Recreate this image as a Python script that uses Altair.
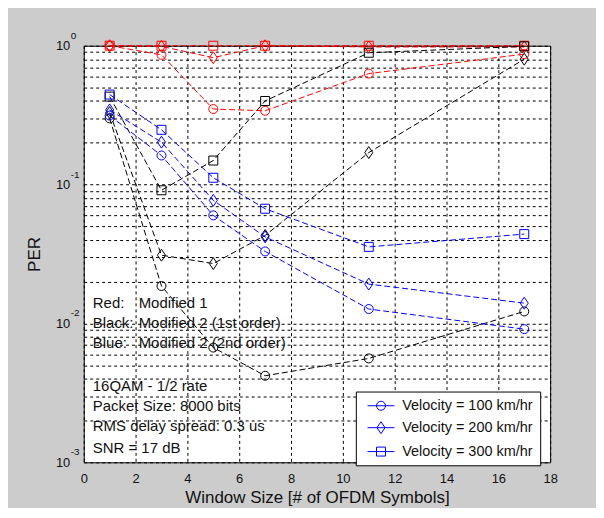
import altair as alt
import pandas as pd

FONT = "Liberation Sans"

window = [1, 3, 5, 7, 11, 17]
methods = ["Modified 1", "Modified 2 (1st order)", "Modified 2 (2nd order)"]
method_colors = ["#ff0000", "#000000", "#0000ff"]
velocities = ["Velocity = 100 km/hr", "Velocity = 200 km/hr", "Velocity = 300 km/hr"]

# Red: Modified 1
red_100 = [1.0, 0.86, 0.35, 0.34, 0.63, 0.87]
red_200 = [1.0, 0.99, 0.82, 1.0, 0.98, 0.98]
red_300 = [1.0, 1.0, 1.0, 1.0, 1.0, 1.0]
# Black: Modified 2 (1st order)
black_100 = [0.30, 0.0186, 0.0067, 0.0042, 0.0056, 0.0122]
black_200 = [0.33, 0.031, 0.027, 0.043, 0.17, 0.80]
black_300 = [0.43, 0.091, 0.149, 0.40, 0.89, 0.99]
# Blue: Modified 2 (2nd order)
blue_100 = [0.314, 0.162, 0.060, 0.033, 0.0127, 0.0091]
blue_200 = [0.345, 0.202, 0.077, 0.042, 0.0192, 0.014]
blue_300 = [0.445, 0.248, 0.112, 0.067, 0.0356, 0.044]

x_ticks = [0, 2, 4, 6, 8, 10, 12, 14, 16, 18]
decades = [0.001, 0.01, 0.1, 1]
exponents = ["-3", "-2", "-1", "0"]

ann_prefix = ["Red:", "Black:", "Blue:"]
ann_body = ["Modified 1", "Modified 2 (1st order)", "Modified 2 (2nd order)"]
ann_rows_y = [0.0141, 0.0101, 0.00726]
info_lines = ["16QAM - 1/2 rate", "Packet Size: 8000 bits",
              "RMS delay spread: 0.3 us", "SNR = 17 dB"]
info_y = [0.00356, 0.00253, 0.00182, 0.00127]
ann_x_prefix = 0.35
ann_x_body = 2.12

series = [
    (methods[0], velocities[0], red_100), (methods[0], velocities[1], red_200), (methods[0], velocities[2], red_300),
    (methods[1], velocities[0], black_100), (methods[1], velocities[1], black_200), (methods[1], velocities[2], black_300),
    (methods[2], velocities[0], blue_100), (methods[2], velocities[1], blue_200), (methods[2], velocities[2], blue_300),
]
rows = []
for m, v, vals in series:
    for xv, yv in zip(window, vals):
        rows.append({"method": m, "velocity": v, "window": xv, "per": yv})
df = pd.DataFrame(rows)

y_values = []
for d in decades[:-1]:
    y_values += [round(d * k, 6) for k in range(1, 10)]
y_values.append(1)

marker_paths = [
    "circle",
    "M0,-1.33L0.9,0L0,1.33L-0.9,0Z",
    "square",
]
legend_paths = [
    "M-3,0L3,0M1,0A1,1 0 1,1 -1,0A1,1 0 1,1 1,0Z",
    "M-3,0L3,0M0,-1.33L0.9,0L0,1.33L-0.9,0Z",
    "M-3,0L3,0M-1,-1L1,-1L1,1L-1,1Z",
]

x_enc = alt.X("window:Q", scale=alt.Scale(domain=[0, 18], nice=False, zero=False),
              axis=alt.Axis(values=x_ticks, title="Window Size [# of OFDM Symbols]",
                            grid=True, gridDash=[3, 3], gridColor="#000000", gridOpacity=1,
                            gridWidth=1, domain=False, ticks=False, labelFont=FONT,
                            labelFontSize=13, labelColor="#111111", labelPadding=10,
                            titleFont=FONT, titleFontSize=17, titleFontWeight="normal",
                            titleColor="#111111", titlePadding=4, labelFlush=False))
y_enc = alt.Y("per:Q", scale=alt.Scale(type="log", domain=[0.001, 1], nice=False),
              axis=alt.Axis(values=y_values, title="PER",
                            labelExpr="(datum.value==1||datum.value==0.1||datum.value==0.01||datum.value==0.001) ? '10' : ''",
                            grid=True, gridDash=[3, 3], gridColor="#000000", gridOpacity=1,
                            gridWidth=1, domain=False, ticks=False, labelFont=FONT,
                            labelFontSize=13, labelColor="#111111", labelPadding=14,
                            labelOverlap=False, labelFlush=False,
                            titleFont=FONT, titleFontSize=17, titleFontWeight="normal",
                            titleColor="#111111", titlePadding=12))

color_enc = alt.Color("method:N", scale=alt.Scale(domain=methods, range=method_colors), legend=None)

lines = alt.Chart(df).mark_line(strokeWidth=1, strokeDash=[6, 3]).encode(
    x=x_enc, y=y_enc, color=color_enc, detail="velocity:N")

points = alt.Chart(df).mark_point(filled=False, size=81, strokeWidth=1, opacity=1).encode(
    x=x_enc, y=y_enc, color=color_enc,
    shape=alt.Shape("velocity:N", scale=alt.Scale(domain=velocities, range=marker_paths), legend=None))

legend_layer = alt.Chart(df).transform_calculate(vlabel="datum.velocity").mark_point(
    filled=False, size=81, strokeWidth=1, opacity=0).encode(
    x=x_enc, y=y_enc, color=alt.value("#0000ff"),
    shape=alt.Shape("vlabel:N", scale=alt.Scale(domain=velocities, range=legend_paths),
                    legend=alt.Legend(title=None, orient="none", legendX=273, legendY=347,
                                      symbolSize=81, symbolStrokeColor="#0000ff",
                                      symbolFillColor="transparent", symbolOpacity=1,
                                      symbolStrokeWidth=1, symbolOffset=11,
                                      labelFont=FONT, labelFontSize=14.5, labelColor="#111111",
                                      labelOffset=14, rowPadding=7, padding=7,
                                      strokeColor="#000000", fillColor="#ffffff",
                                      labelLimit=300)))

ann_df = pd.DataFrame({"x1": [ann_x_prefix] * 3, "x2": [ann_x_body] * 3,
                       "y": ann_rows_y, "p": ann_prefix, "b": ann_body})
ann_prefix_layer = alt.Chart(ann_df).mark_text(align="left", baseline="middle", font=FONT,
                                               fontSize=15, color="#111111").encode(
    x=alt.X("x1:Q"), y=alt.Y("y:Q"), text="p:N")
ann_body_layer = alt.Chart(ann_df).mark_text(align="left", baseline="middle", font=FONT,
                                             fontSize=15, color="#111111").encode(
    x=alt.X("x2:Q"), y=alt.Y("y:Q"), text="b:N")

info_df = pd.DataFrame({"x": [ann_x_prefix] * 4, "y": info_y, "t": info_lines})
info_layer = alt.Chart(info_df).mark_text(align="left", baseline="middle", font=FONT,
                                          fontSize=15, color="#111111").encode(
    x=alt.X("x:Q"), y=alt.Y("y:Q"), text="t:N")

exp_df = pd.DataFrame({"x": [0] * 4, "y": decades, "e": exponents})
exp_layer = alt.Chart(exp_df).mark_text(align="left", baseline="middle", font=FONT,
                                        fontSize=10, color="#111111", dx=-13, dy=-10).encode(
    x=alt.X("x:Q"), y=alt.Y("y:Q"), text="e:N")

chart = alt.layer(lines, points, legend_layer, ann_prefix_layer, ann_body_layer,
                  info_layer, exp_layer).resolve_scale(shape="independent").properties(
    width=468, height=418,
    autosize=alt.AutoSizeParams(type="none"),
    padding={"left": 76, "top": 37, "right": 46, "bottom": 45},
    background="#cccccc",
).configure_view(fill="#ffffff", stroke="#000000", strokeWidth=1)

chart.save("out.html", embed_options={"renderer": "svg", "actions": False})
